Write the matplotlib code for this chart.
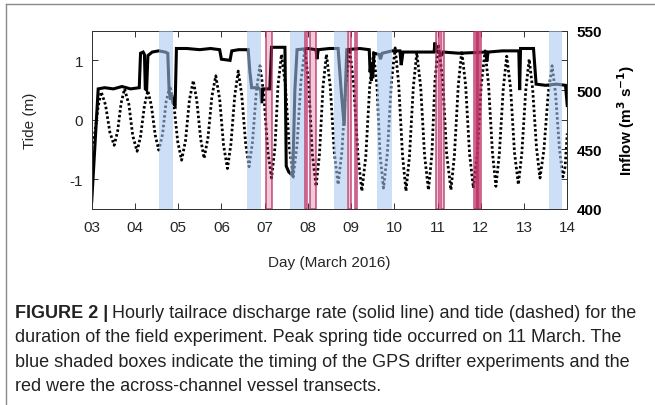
import matplotlib
matplotlib.use("Agg")
import matplotlib.pyplot as plt
from matplotlib.lines import Line2D
from matplotlib.ticker import FixedLocator, FixedFormatter

plt.rcParams["font.family"] = ["Liberation Sans", "DejaVu Sans"]

# tide (m), day of March 2016
tide_day = [3.00, 3.07, 3.15, 3.22, 3.32, 3.42, 3.52, 3.60, 3.68, 3.76, 3.86, 3.95,
            4.05, 4.13, 4.22, 4.30, 4.38, 4.47, 4.55, 4.64, 4.72, 4.81, 4.90, 4.99,
            5.08, 5.17, 5.26, 5.35, 5.43, 5.52, 5.60, 5.69, 5.78, 5.87, 5.96, 6.05,
            6.14, 6.22, 6.31, 6.39, 6.47, 6.56, 6.64, 6.72, 6.81, 6.89, 6.98, 7.07,
            7.16, 7.24, 7.31, 7.39, 7.48, 7.57, 7.66, 7.75, 7.84, 7.93, 8.02, 8.10,
            8.19, 8.27, 8.35, 8.43, 8.52, 8.61, 8.70, 8.79, 8.88, 8.97, 9.06, 9.16,
            9.25, 9.34, 9.43, 9.52, 9.60, 9.67, 9.75, 9.84, 9.93, 10.02, 10.10, 10.19,
            10.27, 10.35, 10.44, 10.52, 10.61, 10.70, 10.79, 10.87, 10.94, 11.02, 11.12, 11.21,
            11.31, 11.39, 11.48, 11.56, 11.65, 11.74, 11.83, 11.92, 12.01, 12.10, 12.18, 12.27,
            12.35, 12.43, 12.52, 12.60, 12.69, 12.78, 12.87, 12.95, 13.04, 13.12, 13.20, 13.29,
            13.37, 13.46, 13.56, 13.65, 13.73, 13.82, 13.90, 13.95, 14.00]
tide_m = [-0.48, -0.24, 0.23, 0.47, 0.25, -0.21, -0.43, -0.19, 0.28, 0.52, 0.26, -0.27,
          -0.53, -0.28, 0.24, 0.49, 0.24, -0.26, -0.51, -0.24, 0.30, 0.57, 0.26, -0.37,
          -0.68, -0.35, 0.33, 0.66, 0.33, -0.32, -0.65, -0.30, 0.39, 0.74, 0.35, -0.43,
          -0.82, -0.41, 0.41, 0.82, 0.42, -0.39, -0.79, -0.37, 0.49, 0.91, 0.44, -0.51,
          -0.98, -0.46, 0.58, 1.10, 0.59, -0.45, -0.96, -0.43, 0.65, 1.18, 0.61, -0.55,
          -1.12, -0.57, 0.55, 1.10, 0.55, -0.54, -1.09, -0.52, 0.61, 1.18, 0.59, -0.61,
          -1.20, -0.62, 0.55, 1.13, 0.56, -0.58, -1.15, -0.56, 0.62, 1.21, 0.61, -0.60,
          -1.20, -0.62, 0.55, 1.13, 0.55, -0.60, -1.18, -0.57, 0.66, 1.27, 0.66, -0.57,
          -1.18, -0.60, 0.58, 1.16, 0.58, -0.57, -1.15, -0.57, 0.58, 1.16, 0.59, -0.55,
          -1.12, -0.57, 0.52, 1.07, 0.53, -0.55, -1.09, -0.56, 0.49, 1.02, 0.52, -0.48,
          -0.98, -0.51, 0.44, 0.91, 0.44, -0.49, -0.96, -0.80, -0.23]

# tailrace discharge (m3/s)
flow_day = [3.00, 3.15, 3.30, 3.50, 3.70, 3.90, 4.10, 4.13, 4.19, 4.22, 4.24, 4.27,
            4.30, 4.40, 4.55, 4.70, 4.76, 4.79, 4.82, 4.85, 4.88, 4.93, 4.96, 5.20,
            5.50, 5.75, 5.96, 6.00, 6.20, 6.24, 6.40, 6.62, 6.66, 6.70, 6.85, 6.91,
            6.93, 6.96, 7.12, 7.16, 7.30, 7.47, 7.50, 7.56, 7.65, 7.70, 7.75, 8.00,
            8.19, 8.21, 8.24, 8.50, 8.70, 8.77, 8.84, 8.90, 9.20, 9.42, 9.44, 9.46,
            9.47, 9.49, 9.50, 9.53, 9.65, 9.68, 9.72, 9.95, 10.13, 10.16, 10.20, 10.50,
            10.92, 10.94, 10.97, 11.10, 11.13, 11.50, 12.12, 12.14, 12.17, 12.50, 12.88,
            12.90, 12.92, 13.22, 13.28, 13.50, 13.75, 13.96, 14.00]
flow = [406, 501, 502, 501, 503, 501, 502, 531, 532, 530, 501, 500,
        529, 532, 533, 532, 531, 500, 492, 496, 489, 487, 535, 535,
        534, 535, 534, 526, 525, 533, 534, 534, 515, 502, 502, 500,
        489, 501, 501, 536, 536, 536, 436, 431, 428, 500, 534, 535,
        534, 526, 534, 535, 535, 500, 470, 534, 535, 534, 515, 523,
        508, 520, 510, 531, 530, 526, 531, 533, 533, 521, 532, 532,
        532, 540, 533, 530, 532, 531, 532, 524, 532, 533, 533,
        500, 535, 535, 505, 504, 505, 504, 487]

# GPS drifter experiments (blue) and vessel transects (red)
drifter_start = [4.56, 6.60, 7.59, 8.61, 9.60, 13.58]
drifter_end = [4.89, 6.92, 7.93, 8.90, 9.94, 13.89]
transect_start = [7.03, 7.93, 8.05, 8.92, 9.09, 10.96, 11.07, 11.85, 11.88, 11.92]
transect_end = [7.16, 7.98, 8.18, 9.00, 9.14, 11.03, 11.16, 11.93, 11.97, 12.01]

day_ticks = list(range(3, 15))
day_labels = ["%02d" % d for d in day_ticks]

caption = [
    "duration of the field experiment. Peak spring tide occurred on 11 March. The",
    "blue shaded boxes indicate the timing of the GPS drifter experiments and the",
    "red were the across-channel vessel transects.",
]

fig = plt.figure(figsize=(6.55, 4.06), dpi=100)
ax = fig.add_axes([0.140, 0.483, 0.726, 0.439])
ax2 = ax.twinx()

ax.plot(tide_day, tide_m, color="black", lw=2.0, ls=(0, (0.9, 0.85)))
ax2.plot(flow_day, flow, color="black", lw=2.2, solid_joinstyle="miter")

for s, e in zip(drifter_start, drifter_end):
    ax2.axvspan(s, e, facecolor="#a7c8f1", alpha=0.57, lw=0, zorder=5)
for s, e in zip(transect_start, transect_end):
    ax2.axvspan(s, e, facecolor="#c8306c", alpha=0.25, zorder=6)
    ax2.axvspan(s, e, facecolor="none", edgecolor="#bb2c62", lw=1.1, alpha=0.85, zorder=6)

ax.set_xlim(3, 14)
ax.set_ylim(-1.5, 1.5)
ax2.set_ylim(400, 550)

ax.xaxis.set_major_locator(FixedLocator(day_ticks))
ax.xaxis.set_major_formatter(FixedFormatter(day_labels))
ax.yaxis.set_major_locator(FixedLocator([-1, 0, 1]))
ax.yaxis.set_major_formatter(FixedFormatter(["-1", "0", "1"]))
ax2.yaxis.set_major_locator(FixedLocator([400, 450, 500, 550]))
ax2.yaxis.set_minor_locator(FixedLocator([425, 475, 525]))

ax.tick_params(axis="both", direction="in", length=4, width=0.7, color="#333333",
               labelsize=11, labelcolor="#262626", top=True, pad=6)
ax.tick_params(axis="x", pad=8)
ax.tick_params(axis="y", right=False)
ax2.tick_params(axis="y", which="both", direction="in", length=4, width=0.7,
                color="#333333", labelsize=11, pad=7)
for lab in ax2.get_yticklabels():
    lab.set_fontweight("bold")

for a in (ax, ax2):
    for sp in a.spines.values():
        sp.set_color("#333333")
        sp.set_linewidth(0.7)

ax.set_ylabel("Tide (m)", fontsize=11, color="#262626", labelpad=24)
ax.set_xlabel("Day (March 2016)", fontsize=11, color="#262626", labelpad=15)
ax2.set_ylabel("Inflow (m$^\\mathbf{3}$ s$^\\mathbf{-1}$)", fontsize=11,
               fontweight="bold", labelpad=9)

# frame lines of the figure panel
fig.add_artist(Line2D([6 / 655, 6 / 655], [0, 1 - 5 / 406], color="#8a8a8a", lw=1))
fig.add_artist(Line2D([6 / 655, 1], [1 - 5 / 406, 1 - 5 / 406], color="#8a8a8a", lw=1))

# caption
y0 = 1 - 318 / 406
t1 = fig.text(15 / 655, y0, "FIGURE 2 |", fontsize=13, fontweight="bold",
              color="#222222", va="baseline")
fig.canvas.draw()
bb = t1.get_window_extent().transformed(fig.transFigure.inverted())
fig.text(bb.x1 + 4 / 655, y0,
         "Hourly tailrace discharge rate (solid line) and tide (dashed) for the",
         fontsize=13, color="#222222", va="baseline")
for i, line in enumerate(caption):
    fig.text(15 / 655, y0 - (i + 1) * 24.5 / 406, line, fontsize=13,
             color="#222222", va="baseline")

fig.savefig("out.png", dpi=100)
